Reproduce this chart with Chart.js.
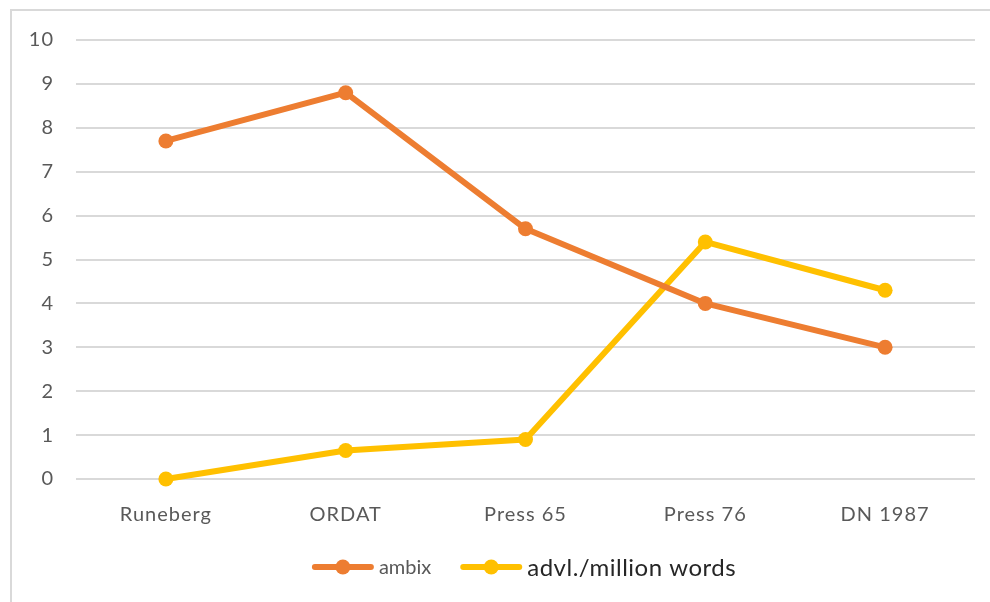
<!DOCTYPE html>
<html>
<head>
<meta charset="utf-8">
<script src="https://cdn.jsdelivr.net/npm/chart.js@4"></script>
<style>
  html, body { margin: 0; padding: 0; background: #fff; }
  #wrap { width: 990px; height: 602px; position: relative; }
</style>
</head>
<body>
<div id="wrap"><canvas id="lineChart"></canvas></div>
<script>
// chart data
const categories = ['Runeberg', 'ORDAT', 'Press 65', 'Press 76', 'DN 1987'];
const ambixValues = [7.7, 8.8, 5.7, 4.0, 3.0];
const advlValues = [0, 0.65, 0.9, 5.4, 4.3];
const yTicks = [0, 1, 2, 3, 4, 5, 6, 7, 8, 9, 10];

const FONT = 'Lato, "Noto Sans", sans-serif';

// light frame around the whole chart (left + top edges visible)
// also widen letter spacing a bit, the original text is quite airy
const framePlugin = {
    id: 'frame',
    beforeDraw(chart) {
        const c = chart.ctx;
        c.letterSpacing = '1px';
        c.save();
        c.strokeStyle = '#D9D9D9';
        c.lineWidth = 2;
        c.strokeRect(11, 10, 1200, 900);
        c.restore();
    }
};

// legend drawn under the plot: line with a dot, then the label
const legendPlugin = {
    id: 'lineLegend',
    afterDraw(chart) {
        const c = chart.ctx;
        const items = [
            { ds: chart.data.datasets[0], font: '20px ' + FONT, color: '#595959', spacing: '0px' },
            { ds: chart.data.datasets[1], font: '24px ' + FONT, color: '#262626', spacing: '0.5px' }
        ];
        const lineW = 56, textGap = 8, itemGap = 32;
        c.save();
        let total = 0;
        items.forEach((it, i) => {
            c.font = it.font;
            c.letterSpacing = it.spacing;
            it.w = c.measureText(it.ds.label).width;
            total += lineW + textGap + it.w + (i ? itemGap : 0);
        });
        const area = chart.chartArea;
        let x = (area.left + area.right) / 2 - total / 2;
        const y = 567;
        items.forEach((it, i) => {
            if (i) x += itemGap;
            c.strokeStyle = it.ds.borderColor;
            c.lineWidth = 6;
            c.lineCap = 'round';
            c.beginPath();
            c.moveTo(x, y);
            c.lineTo(x + lineW, y);
            c.stroke();
            c.fillStyle = it.ds.borderColor;
            c.beginPath();
            c.arc(x + lineW / 2, y, 7.5, 0, Math.PI * 2);
            c.fill();
            x += lineW + textGap;
            c.font = it.font;
            c.letterSpacing = it.spacing;
            c.fillStyle = it.color;
            c.textBaseline = 'middle';
            c.fillText(it.ds.label, x, y + 1);
            x += it.w;
        });
        c.restore();
    }
};

const ctx = document.getElementById('lineChart').getContext('2d');

const lineChart = new Chart(ctx, {
    type: 'line',
    data: {
        labels: categories,
        datasets: [{
            label: 'ambix',
            data: ambixValues,
            borderColor: '#ED7D31',
            backgroundColor: '#ED7D31',
            borderWidth: 6,
            borderCapStyle: 'round',
            borderJoinStyle: 'round',
            pointRadius: 7.5,
            pointHoverRadius: 7.5,
            pointBorderWidth: 0,
            clip: false
        }, {
            label: 'advl./million words',
            data: advlValues,
            borderColor: '#FFC000',
            backgroundColor: '#FFC000',
            borderWidth: 6,
            borderCapStyle: 'round',
            borderJoinStyle: 'round',
            pointRadius: 7.5,
            pointHoverRadius: 7.5,
            pointBorderWidth: 0,
            clip: false
        }]
    },
    options: {
        responsive: true,
        maintainAspectRatio: false,
        animation: false,
        layout: {
            padding: { left: 20, right: 15, top: 40, bottom: 0 }
        },
        plugins: {
            legend: { display: false },
            tooltip: { enabled: false }
        },
        scales: {
            x: {
                offset: true,
                grid: { display: false },
                border: { display: false },
                ticks: {
                    color: '#595959',
                    font: { family: FONT, size: 20 },
                    padding: 16,
                    maxRotation: 0
                },
                afterFit(scale) { scale.height = 123; }
            },
            y: {
                min: 0,
                max: 10,
                afterBuildTicks(scale) {
                    scale.ticks = yTicks.map(v => ({ value: v }));
                },
                grid: {
                    color: '#D9D9D9',
                    lineWidth: 2,
                    drawTicks: false
                },
                border: { display: false },
                ticks: {
                    color: '#595959',
                    font: { family: FONT, size: 20 },
                    padding: 22
                },
                afterFit(scale) { scale.width = 56; }
            }
        }
    },
    plugins: [framePlugin, legendPlugin]
});
</script>
</body>
</html>
